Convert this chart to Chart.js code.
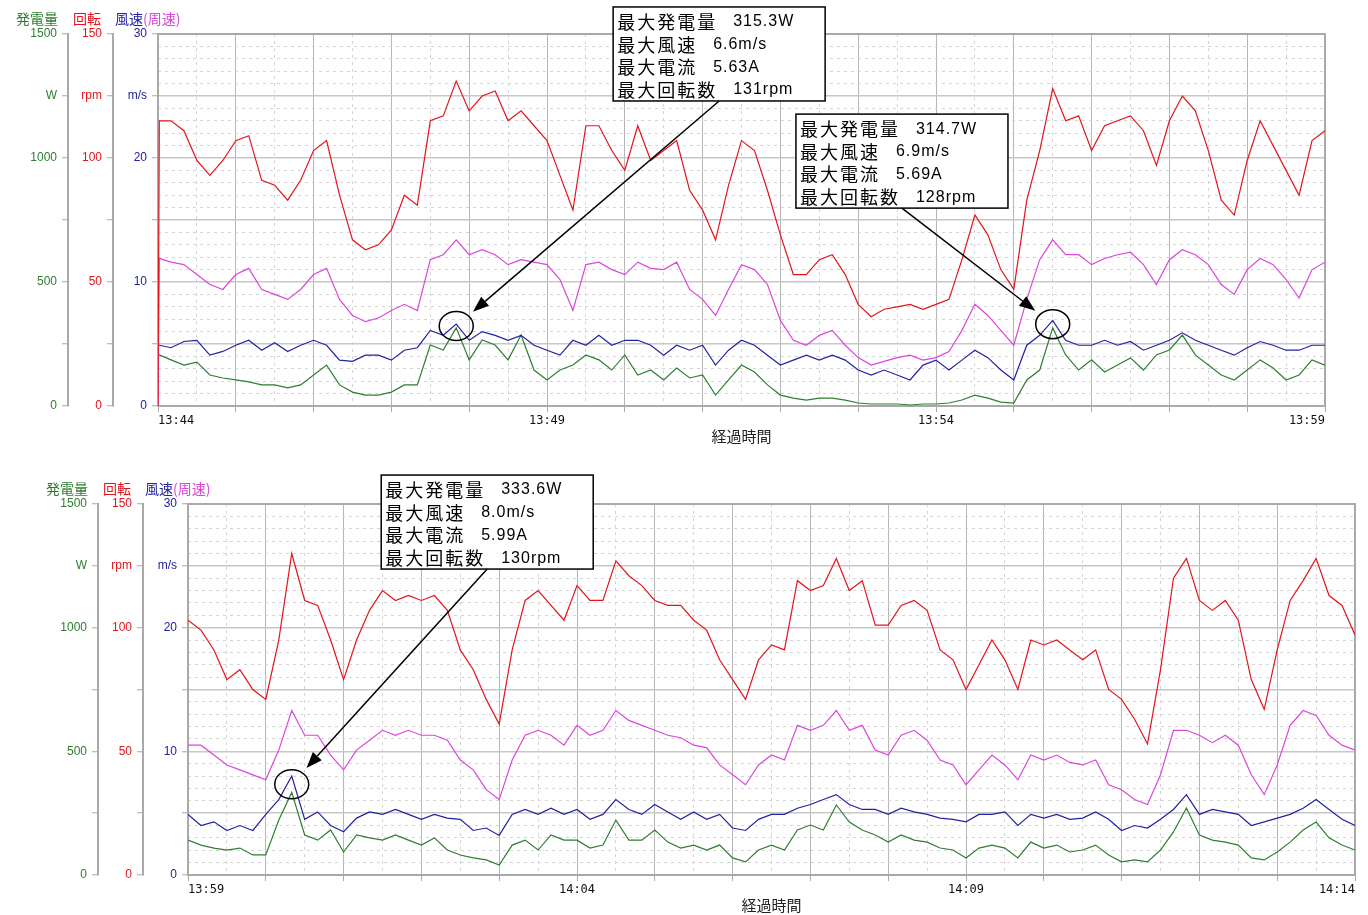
<!DOCTYPE html>
<html lang="ja">
<head>
<meta charset="UTF-8">
<title>発電量・回転・風速</title>
<script src="https://cdn.jsdelivr.net/npm/chart.js"></script>
<style>
  body { margin: 0; background: #fff; }
  canvas { position: absolute; left: 0; }
  #chartTop { top: 0; }
  #chartBottom { top: 455px; }
</style>
</head>
<body>
<canvas id="chartTop" width="1368" height="455"></canvas>
<canvas id="chartBottom" width="1368" height="460"></canvas>
<script>
// one reading every 10 s over 15 minutes
const topTicks = ['13:44', '13:49', '13:54', '13:59'];
const bottomTicks = ['13:59', '14:04', '14:09', '14:14'];

// top panel (first value of rpm / tip speed is the logger start at 0)
const topRpm = [0,
  115, 115, 111, 99, 93, 99, 107, 109, 91, 89,
  83, 91, 103, 107, 85, 67, 63, 65, 71, 85,
  81, 115, 117, 131, 119, 125, 127, 115, 119, 113,
  107, 93, 79, 113, 113, 103, 95, 113, 99, 103,
  107, 87, 79, 67, 89, 107, 103, 87, 69, 53,
  53, 59, 61, 53, 41, 36, 39, 40, 41, 39,
  41, 43, 59, 77, 69, 55, 47, 83, 103, 128,
  115, 117, 103, 113, 115, 117, 111, 97, 115, 125,
  119, 103, 83, 77, 99, 115, 105, 95, 85, 107,
  111];
const topTip = [0,
  11.9, 11.6, 11.4, 10.6, 9.8, 9.4, 10.6, 11.1, 9.4, 9.0,
  8.6, 9.4, 10.6, 11.1, 8.6, 7.3, 6.8, 7.1, 7.7, 8.2,
  7.7, 11.8, 12.2, 13.4, 12.2, 12.6, 12.2, 11.4, 11.8, 11.6,
  11.4, 10.2, 7.7, 11.4, 11.6, 11.0, 10.6, 11.6, 11.1, 11.0,
  11.6, 9.4, 8.6, 7.3, 9.4, 11.4, 11.0, 9.8, 6.9, 5.3,
  4.9, 5.7, 6.1, 4.9, 3.9, 3.3, 3.6, 3.9, 4.1, 3.7,
  3.9, 4.4, 6.1, 8.2, 7.3, 6.1, 4.9, 8.6, 11.8, 13.4,
  12.2, 12.2, 11.4, 11.9, 12.2, 12.4, 11.4, 9.8, 11.8, 12.6,
  12.2, 11.4, 9.8, 9.0, 11.0, 11.9, 11.4, 10.2, 8.7, 11.0,
  11.6];
const topWind = [4.9,
  4.9, 4.7, 5.2, 5.3, 4.1, 4.4, 4.9, 5.3, 4.5, 5.1,
  4.4, 4.9, 5.3, 4.9, 3.7, 3.6, 4.1, 4.1, 3.7, 4.5,
  4.7, 6.1, 5.7, 6.6, 5.3, 6.0, 5.7, 5.3, 5.7, 4.9,
  4.5, 4.1, 5.3, 4.9, 5.7, 4.9, 5.3, 5.3, 4.9, 4.1,
  4.9, 4.5, 4.9, 3.3, 4.5, 5.3, 4.9, 4.1, 3.3, 3.7,
  4.1, 3.7, 4.1, 3.7, 2.9, 2.5, 2.9, 2.5, 2.1, 3.3,
  3.7, 2.9, 3.7, 4.5, 3.9, 2.9, 2.1, 4.9, 5.7, 6.9,
  5.3, 4.9, 4.9, 5.3, 4.9, 5.2, 4.5, 4.9, 5.3, 5.9,
  5.3, 4.9, 4.5, 4.1, 4.7, 5.2, 4.9, 4.5, 4.5, 4.9,
  4.9];
const topPower = [206,
  206, 186, 165, 177, 125, 113, 105, 97, 85, 85,
  73, 85, 125, 165, 85, 56, 44, 44, 56, 85,
  85, 246, 226, 315, 186, 266, 246, 186, 286, 145,
  105, 145, 165, 206, 186, 145, 206, 125, 145, 105,
  153, 113, 125, 44, 105, 165, 137, 85, 44, 32,
  24, 32, 32, 24, 12, 8, 8, 8, 4, 8,
  8, 12, 24, 44, 32, 16, 12, 105, 145, 315,
  206, 145, 186, 137, 165, 194, 145, 206, 226, 286,
  206, 165, 125, 105, 145, 186, 153, 105, 125, 186,
  165];

// bottom panel
const bottomRpm = [
  103, 99, 91, 79, 83, 75, 71, 95, 130, 111,
  109, 95, 79, 95, 107, 115, 111, 113, 111, 113,
  107, 91, 83, 71, 61, 91, 111, 115, 109, 103,
  117, 111, 111, 127, 121, 117, 111, 109, 109, 103,
  99, 87, 79, 71, 87, 93, 91, 119, 115, 117,
  128, 115, 119, 101, 101, 109, 111, 107, 91, 87,
  75, 85, 95, 87, 75, 95, 93, 95, 91, 87,
  91, 75, 71, 63, 53, 83, 120, 128, 111, 107,
  111, 103, 79, 67, 91, 111, 119, 128, 113, 109,
  97];
const bottomTip = [
  10.5, 10.5, 9.7, 8.9, 8.5, 8.1, 7.7, 10.1, 13.3, 11.3,
  11.3, 9.7, 8.5, 10.1, 10.9, 11.7, 11.3, 11.7, 11.3, 11.3,
  10.9, 9.3, 8.5, 6.9, 6.1, 9.3, 11.3, 11.7, 11.3, 10.5,
  12.1, 11.3, 11.7, 13.3, 12.5, 12.1, 11.7, 11.3, 11.1, 10.5,
  10.3, 8.9, 8.1, 7.3, 8.9, 9.7, 9.3, 12.1, 11.7, 12.1,
  13.3, 11.7, 12.1, 10.1, 9.7, 11.3, 11.7, 10.9, 9.3, 8.9,
  7.3, 8.5, 9.7, 8.9, 7.7, 9.7, 9.3, 9.7, 9.1, 8.9,
  9.3, 7.3, 6.9, 6.1, 5.7, 8.1, 11.7, 11.7, 11.3, 10.7,
  11.3, 10.5, 8.1, 6.5, 8.9, 12.1, 13.3, 12.9, 11.3, 10.5,
  10.1];
const bottomWind = [
  4.9, 4.0, 4.3, 3.6, 4.0, 3.6, 4.9, 6.1, 8.0, 4.5,
  5.1, 4.0, 3.5, 4.6, 5.1, 4.9, 5.3, 4.9, 4.5, 4.9,
  4.6, 4.5, 3.6, 3.8, 3.2, 4.9, 5.3, 4.9, 5.4, 4.9,
  5.3, 4.5, 4.9, 6.1, 5.3, 4.9, 5.7, 5.1, 4.5, 5.1,
  4.5, 4.9, 3.8, 3.6, 4.5, 4.9, 4.9, 5.4, 5.7, 6.1,
  6.5, 5.7, 5.3, 5.3, 4.9, 5.4, 5.1, 4.9, 4.6, 4.5,
  4.3, 4.9, 4.9, 5.1, 4.0, 4.9, 4.6, 4.9, 4.5, 4.6,
  5.1, 4.5, 3.6, 4.0, 3.8, 4.5, 5.3, 6.5, 4.9, 5.3,
  5.1, 4.9, 4.0, 4.3, 4.6, 4.9, 5.4, 6.1, 5.3, 4.5,
  4.0];
const bottomPower = [
  141, 121, 109, 101, 109, 81, 81, 222, 334, 162,
  141, 182, 93, 162, 150, 141, 162, 141, 121, 150,
  101, 81, 69, 61, 40, 121, 141, 101, 162, 141,
  141, 109, 121, 222, 141, 141, 182, 133, 109, 121,
  101, 121, 69, 53, 101, 121, 101, 182, 202, 182,
  283, 214, 182, 162, 133, 162, 141, 133, 109, 101,
  69, 109, 121, 109, 69, 133, 109, 121, 93, 101,
  121, 81, 53, 61, 53, 101, 174, 271, 162, 141,
  133, 121, 69, 61, 93, 133, 182, 214, 150, 121,
  101];

// callout boxes: t = time of the circled peak, box = top-left corner in (s, W)
const topNotes = [
  {t: 230, box: [351, 1609], lines: [['最大発電量', '315.3W'], ['最大風速', '6.6m/s'], ['最大電流', '5.63A'], ['最大回転数', '131rpm']]},
  {t: 690, box: [492, 1177], lines: [['最大発電量', '314.7W'], ['最大風速', '6.9m/s'], ['最大電流', '5.69A'], ['最大回転数', '128rpm']]}
];
const bottomNotes = [
  {t: 80, box: [149, 1617], lines: [['最大発電量', '333.6W'], ['最大風速', '8.0m/s'], ['最大電流', '5.99A'], ['最大回転数', '130rpm']]}
];

const C = {
  green: '#2f7d2f', red: '#e3141c', magenta: '#dc45dc', blue: '#2222a0',
  grid: '#c8c8c8', minor: '#d4d4d4', axis: '#a9a9a9'
};

function sampleTimes(withStart) {
  const t = withStart ? [0, 1] : [0];
  for (let s = 10; s <= 900; s += 10) t.push(s);
  return t;
}

function axisY(max, step, unit, color, weight, inner) {
  const major = ctx => ctx.tick && Math.round(ctx.tick.value / step) % 5 === 0;
  return {
    type: 'linear', axis: 'y', position: 'left', weight, min: 0, max,
    afterFit: s => { s.width = 45; },
    ticks: {
      stepSize: step, maxTicksLimit: 100, autoSkip: false, color, padding: 5,
      font: {family: 'Liberation Sans', size: 12},
      callback: v => v % (max / 3) === 0 ? String(v) : (v === max * 5 / 6 ? unit : '')
    },
    grid: {
      drawOnChartArea: inner, tickLength: 6, tickWidth: 1,
      lineWidth: ctx => major(ctx) ? 1.5 : 1,
      color: ctx => major(ctx) ? C.grid : C.minor,
      tickColor: ctx => major(ctx) ? C.axis : 'rgba(0,0,0,0)'
    },
    border: {display: !inner, color: C.axis, width: 2, dash: ctx => (!ctx.tick || major(ctx)) ? [] : [3, 4]}
  };
}

function axisX(labels) {
  const minute = ctx => ctx.tick && ctx.tick.value % 60 === 0;
  return {
    type: 'linear', min: 0, max: 900,
    afterFit: s => { s.height = 39; },
    ticks: {
      stepSize: 30, maxTicksLimit: 100, autoSkip: false, maxRotation: 0, align: 'inner',
      padding: 2, color: '#111', font: {family: 'DejaVu Sans Mono', size: 12},
      callback: v => v % 300 === 0 ? labels[v / 300] : ''
    },
    grid: {
      tickLength: 6, tickWidth: 1, lineWidth: 1,
      color: ctx => minute(ctx) ? '#b6b6b6' : C.minor,
      tickColor: ctx => minute(ctx) ? C.axis : 'rgba(0,0,0,0)'
    },
    border: {display: false, dash: ctx => (ctx.tick && !minute(ctx)) ? [3, 4] : []},
    title: {display: true, text: '経過時間', color: '#222', padding: 0, font: {family: 'Noto Sans CJK JP', size: 15}}
  };
}

// frame, headers above the axes, callouts
const decor = {
  id: 'decor',
  beforeDatasetsDraw(chart) {
    const {ctx, chartArea: a} = chart;
    ctx.save();
    ctx.strokeStyle = C.axis;
    ctx.lineWidth = 2;
    ctx.strokeRect(a.left, a.top, a.right - a.left, a.bottom - a.top);
    ctx.restore();
  },
  afterDraw(chart, args, opts) {
    const {ctx, scales} = chart;
    const hy = chart.chartArea.top - 15;
    ctx.save();
    ctx.font = '14px "Noto Sans CJK JP"';
    ctx.textBaseline = 'middle';
    ctx.textAlign = 'right';
    ctx.fillStyle = C.green;
    ctx.fillText('発電量', scales.yPow.right - 10, hy);
    ctx.fillStyle = C.red;
    ctx.fillText('回転', scales.yRpm.right - 12, hy);
    ctx.textAlign = 'left';
    ctx.fillStyle = C.blue;
    ctx.fillText('風速', scales.yRpm.right + 2, hy);
    ctx.fillStyle = C.magenta;
    ctx.fillText('(周速)', scales.yRpm.right + 2 + ctx.measureText('風速').width, hy);

    for (const n of opts.notes) {
      const i = opts.times.indexOf(n.t);
      const cx = scales.x.getPixelForValue(n.t);
      const cy = (scales.ySpd.getPixelForValue(opts.wind[i]) + scales.yPow.getPixelForValue(opts.power[i])) / 2;
      ctx.strokeStyle = '#000';
      ctx.fillStyle = '#000';
      ctx.lineWidth = 1.5;
      ctx.beginPath();
      ctx.ellipse(cx, cy, 17, 14.5, 0, 0, Math.PI * 2);
      ctx.stroke();

      const bx = scales.x.getPixelForValue(n.box[0]);
      const by = scales.yPow.getPixelForValue(n.box[1]);
      const bw = 212, bh = 94;
      ctx.fillStyle = '#fff';
      ctx.fillRect(bx, by, bw, bh);
      ctx.strokeRect(bx, by, bw, bh);
      ctx.fillStyle = '#000';
      ctx.textAlign = 'left';
      n.lines.forEach(([label, val], k) => {
        const ty = by + 15 + k * 22.7;
        ctx.font = '18px "Noto Sans CJK JP"';
        ctx.letterSpacing = '2px';
        ctx.fillText(label, bx + 4, ty);
        const lw = ctx.measureText(label).width;
        ctx.font = '16px "Liberation Sans"';
        ctx.letterSpacing = '1px';
        ctx.fillText(val, bx + 4 + lw + 16, ty);
      });
      ctx.letterSpacing = '0px';

      // arrow from box to circle
      const sx = bx + bw / 2, sy = by + bh;
      const d = Math.hypot(cx - sx, cy - sy);
      const ux = (cx - sx) / d, uy = (cy - sy) / d;
      const ex = cx - ux * 22, ey = cy - uy * 22;
      const hx = ex - ux * 16, hy2 = ey - uy * 16;
      ctx.beginPath();
      ctx.moveTo(sx, sy);
      ctx.lineTo(hx, hy2);
      ctx.stroke();
      ctx.beginPath();
      ctx.moveTo(ex, ey);
      ctx.lineTo(hx - uy * 6, hy2 + ux * 6);
      ctx.lineTo(hx + uy * 6, hy2 - ux * 6);
      ctx.closePath();
      ctx.fill();
    }
    ctx.restore();
  }
};

function pts(times, vals) {
  return vals.map((y, i) => ({x: times[i], y}));
}

function makeChart(id, times, rpm, tip, wind, power, labels, notes, pad) {
  const line = (data, color, axis) => ({
    data: pts(times, data), borderColor: color, borderWidth: 1.2,
    pointRadius: 0, tension: 0, xAxisID: 'x', yAxisID: axis, fill: false
  });
  return new Chart(document.getElementById(id), {
    type: 'line',
    data: {
      datasets: [
        line(rpm, C.red, 'yRpm'),
        line(tip, C.magenta, 'ySpd'),
        line(wind, C.blue, 'ySpd'),
        line(power, C.green, 'yPow')
      ]
    },
    options: {
      responsive: false,
      animation: false,
      devicePixelRatio: 1,
      layout: {padding: pad},
      plugins: {
        legend: {display: false},
        tooltip: {enabled: false},
        decor: {notes, times, wind, power}
      },
      scales: {
        x: axisX(labels),
        yPow: axisY(1500, 50, 'W', C.green, 3, false),
        yRpm: axisY(150, 5, 'rpm', C.red, 2, false),
        ySpd: axisY(30, 1, 'm/s', C.blue, 1, true)
      }
    },
    plugins: [decor]
  });
}

makeChart('chartTop', sampleTimes(true), topRpm, topTip, topWind, topPower, topTicks, topNotes,
  {left: 23, right: 43, top: 34, bottom: 10});
makeChart('chartBottom', sampleTimes(false), bottomRpm, bottomTip, bottomWind, bottomPower, bottomTicks, bottomNotes,
  {left: 53, right: 13, top: 49, bottom: 1});
</script>
</body>
</html>
